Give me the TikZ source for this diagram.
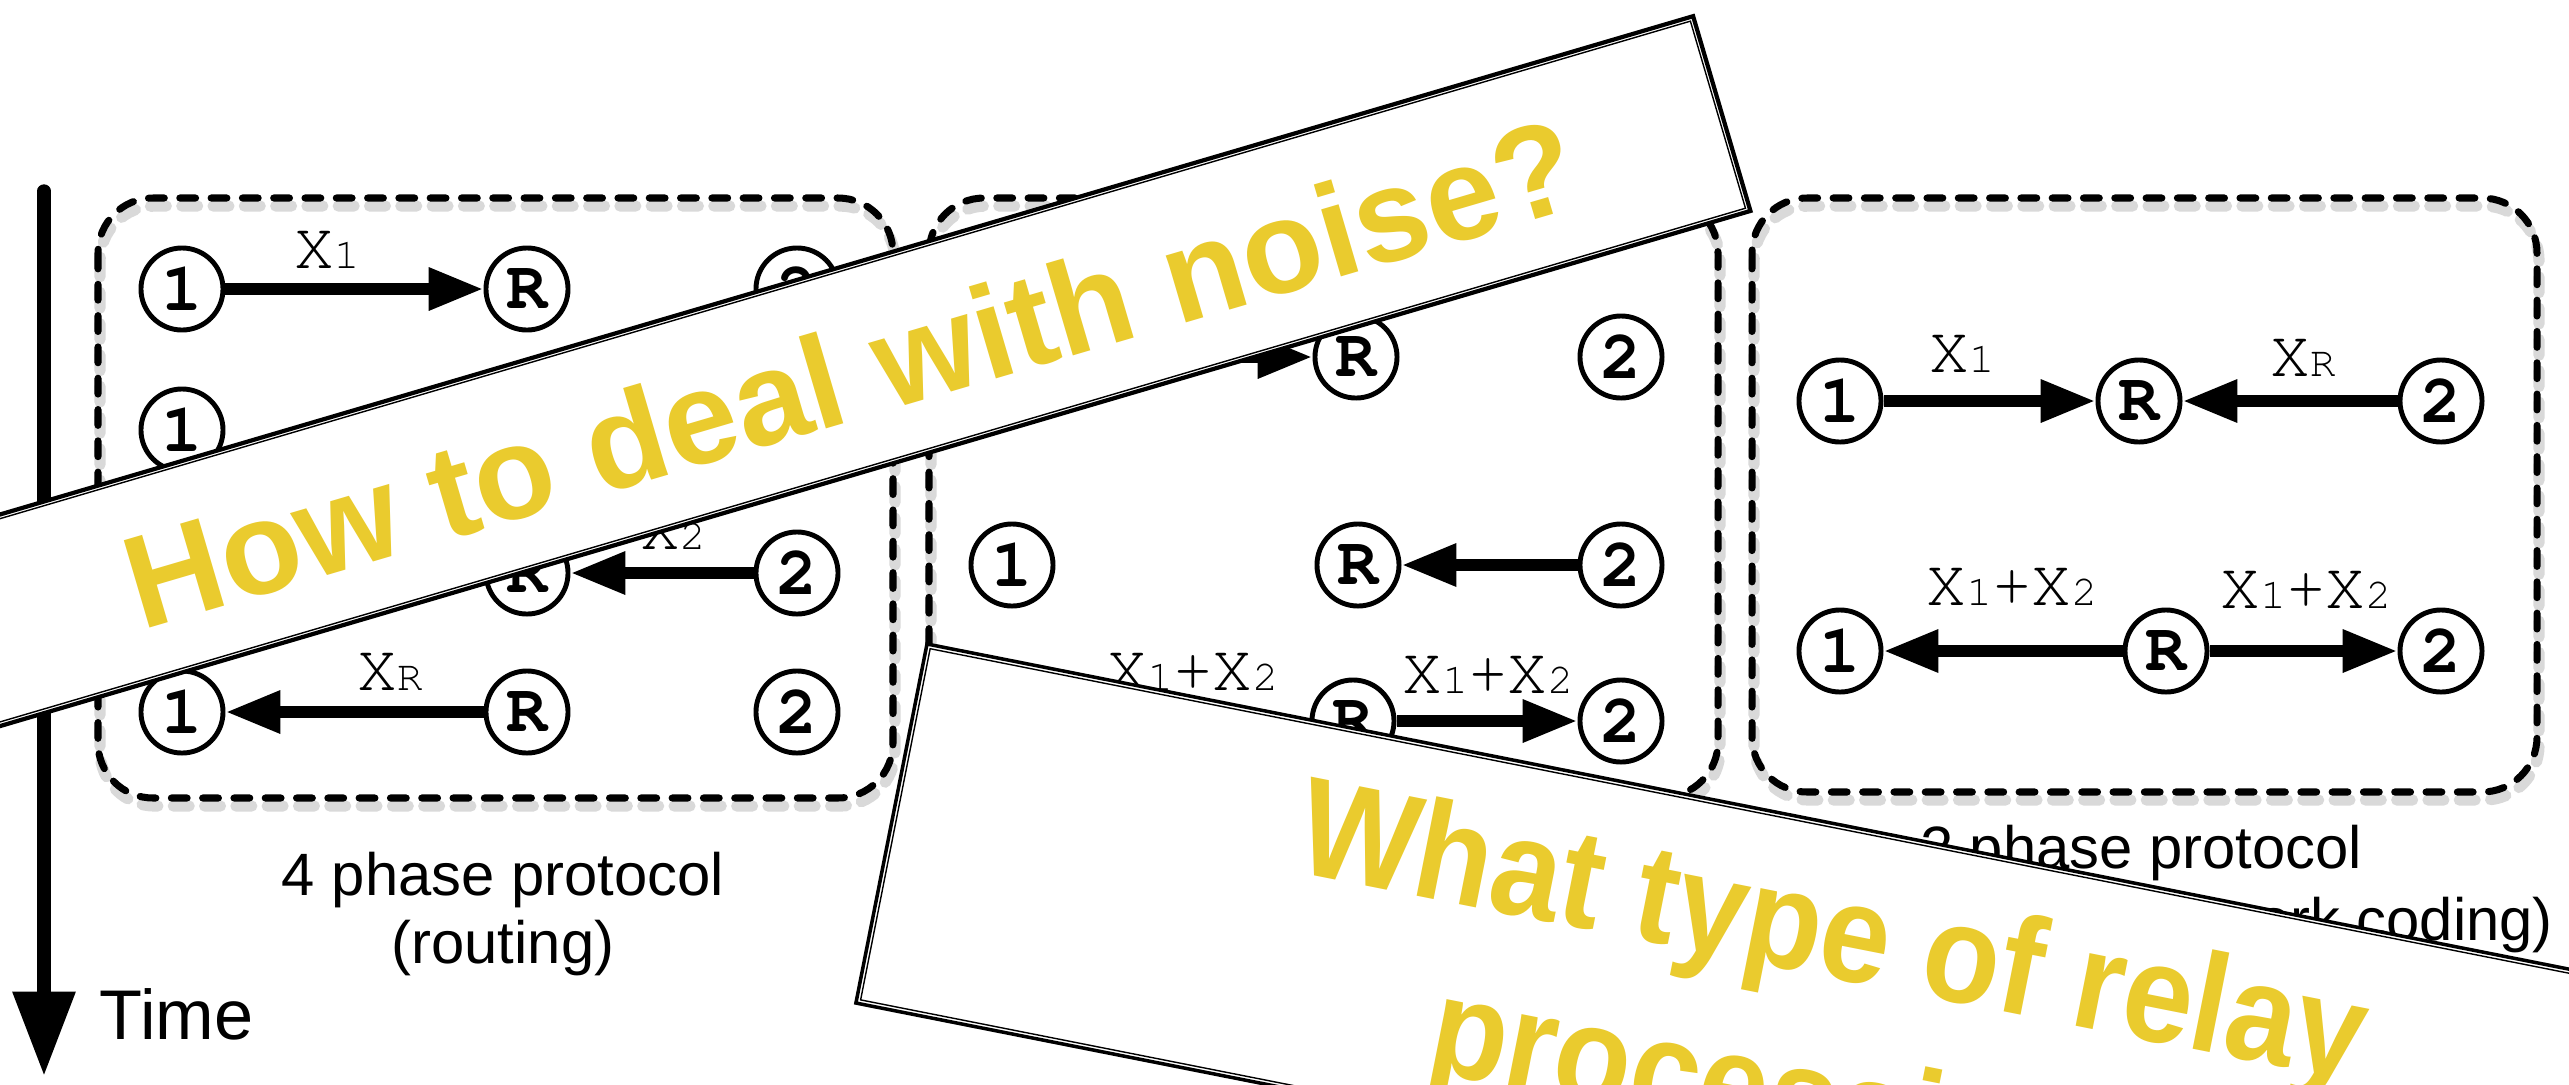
\documentclass[tikz,border=0pt]{standalone}
\usepackage[T1]{fontenc}
\usepackage{fontspec}
\setmainfont{Liberation Sans}
\newcommand\crr{\fontencoding{T1}\fontfamily{pcr}\selectfont}
\usetikzlibrary{arrows.meta}
\definecolor{yel}{RGB}{234,203,46}
\newcommand\mysub[1]{{\fontsize{12.2}{13}\selectfont #1}}
\begin{document}
\begin{tikzpicture}[x=0.01cm, y=-0.01cm,
  nd/.style={circle, draw, line width=1.4pt, minimum size=0.82cm, inner sep=0pt, fill=white,
    font=\crr\bfseries\fontsize{19.5}{20}\selectfont},
  lab/.style={anchor=base, inner sep=0pt, font=\crr\fontsize{18.8}{20}\selectfont},
  arr/.style={line width=3.4pt, -{Triangle[length=15.6pt, width=11.4pt]}},
  boxline/.style={line width=2pt, dash pattern=on 4.5pt off 4.4pt, line cap=round, rounded corners=0.55cm},
  boxshadow/.style={line width=3.2pt, dash pattern=on 4.5pt off 4.4pt, line cap=round, rounded corners=0.55cm, black, opacity=0.15, shift={(2,8)}},
  capt/.style={anchor=base, inner sep=0pt, font=\fontsize{17}{20}\selectfont},
  bannerline/.style={line width=1.2pt, line join=miter},
  bannerthin/.style={line width=0.4pt},
  bigtxt/.style={anchor=base, inner sep=0pt, transform shape, text=yel}
]
\path[use as bounding box] (0,0) rectangle (2569,1084);
\clip (0,0) rectangle (2569,1084);
\fill[white] (0,0) rectangle (2569,1084);

% ---------- dashed boxes ----------
\draw[boxshadow] (98,198) rectangle (893,798);
\draw[boxshadow] (929,198) rectangle (1718,797);
\draw[boxshadow] (1752,198) rectangle (2537,792);
\draw[boxline] (98,198) rectangle (893,798);
\draw[boxline] (929,198) rectangle (1718,797);
\draw[boxline] (1752,198) rectangle (2537,792);

% ---------- box 1 : 4 phase protocol ----------
\node[nd] (a11) at (182,289) {1};
\node[nd] (a1R) at (527,289) {R};
\node[nd] (a12) at (797,289) {2};
\node[nd] (a21) at (182,430) {1};
\node[nd] (a3R) at (527,573) {R};
\node[nd] (a32) at (797,573) {2};
\node[nd] (a41) at (182,712) {1};
\node[nd] (a4R) at (527,712) {R};
\node[nd] (a42) at (797,712) {2};
\draw[arr] (a11) -- (a1R);
\draw[arr] (a32) -- (a3R);
\draw[arr] (a4R) -- (a41);
\node[lab] (la1) at (327,268) {X\mysub{1}};
\node[lab] (la3) at (673,549) {X\mysub{2}};
\node[lab] (la4) at (390,690) {X\mysub{R}};
\node[capt] (cp1a) at (503,895) {4 phase protocol};
\node[capt] (cp1b) at (503,963) {(routing)};

% ---------- box 2 ----------
\node[nd] (b11) at (1012,357) {1};
\node[nd] (b1R) at (1356,357) {R};
\node[nd] (b12) at (1621,357) {2};
\node[nd] (b21) at (1012,565) {1};
\node[nd] (b2R) at (1358,565) {R};
\node[nd] (b22) at (1621,565) {2};
\node[nd] (b3R) at (1353,721) {R};
\node[nd] (b32) at (1621,721) {2};
\draw[arr] (b11) -- (b1R);
\draw[arr] (b22) -- (b2R);
\draw[arr] (b3R) -- (b32);
\node[lab] (lb1) at (1193,690) {X\mysub{1}+X\mysub{2}};
\node[lab] (lb2) at (1488,693) {X\mysub{1}+X\mysub{2}};

% ---------- box 3 : 2 phase protocol ----------
\node[nd] (c11) at (1840,401) {1};
\node[nd] (c1R) at (2139,401) {R};
\node[nd] (c12) at (2441,401) {2};
\node[nd] (c21) at (1840,651) {1};
\node[nd] (c2R) at (2166,651) {R};
\node[nd] (c22) at (2441,651) {2};
\draw[arr] (c11) -- (c1R);
\draw[arr] (c12) -- (c1R);
\draw[arr] (c2R) -- (c21);
\draw[arr] (c2R) -- (c22);
\node[lab] (lc1) at (1962,372) {X\mysub{1}};
\node[lab] (lc2) at (2303,376) {X\mysub{R}};
\node[lab] (lc3) at (2012,605) {X\mysub{1}+X\mysub{2}};
\node[lab] (lc4) at (2306,608) {X\mysub{1}+X\mysub{2}};
\node[capt] (cp3a) at (2141,868) {2 phase protocol};
\node[capt] (cp3b) at (2141,940) {(physical-layer network coding)};

% ---------- time axis ----------
\coordinate (tA) at (44,191);
\coordinate (tB) at (44,1076);
\draw[line width=3.8pt, line cap=round, -{Triangle[length=24pt, width=17pt]}] (tA) -- (tB);
\node[anchor=base west, inner sep=0pt, font=\fontsize{20}{22}\selectfont] (time) at (99,1039) {Time};

% ---------- banner 1 ----------
\begin{scope}[shift={(825,378)}, rotate=16.4]
  \fill[white] (-1100,-102) rectangle (935,101);
  \draw[bannerline] (-1100,-102) rectangle (935,101);
  \draw[bannerthin] (-1100,-98) -- (931,-98) -- (931,97) -- (-1100,97);
  \node[bigtxt, font=\bfseries\fontsize{37.6}{40}\selectfont] (q1) at (26,49) {How to deal with noise?};
\end{scope}

% ---------- banner 2 ----------
\begin{scope}[shift={(927,644)}, rotate=-11.2]
  \fill[white] (0,0) rectangle (2300,366);
  \draw[line width=1pt] (0,0) rectangle (2300,366);
  \draw[bannerthin] (2300,4) -- (4,4) -- (4,362) -- (2300,362);
  \node[bigtxt, font=\bfseries\fontsize{39.8}{42}\selectfont] (q2a) at (945,152) {\scalebox{0.9}[1]{What type of relay}};
  \node[bigtxt, font=\bfseries\fontsize{39.8}{42}\selectfont] (q2b) at (945,322) {\scalebox{0.9}[1]{processing?}};
\end{scope}
\end{tikzpicture}
\end{document}
